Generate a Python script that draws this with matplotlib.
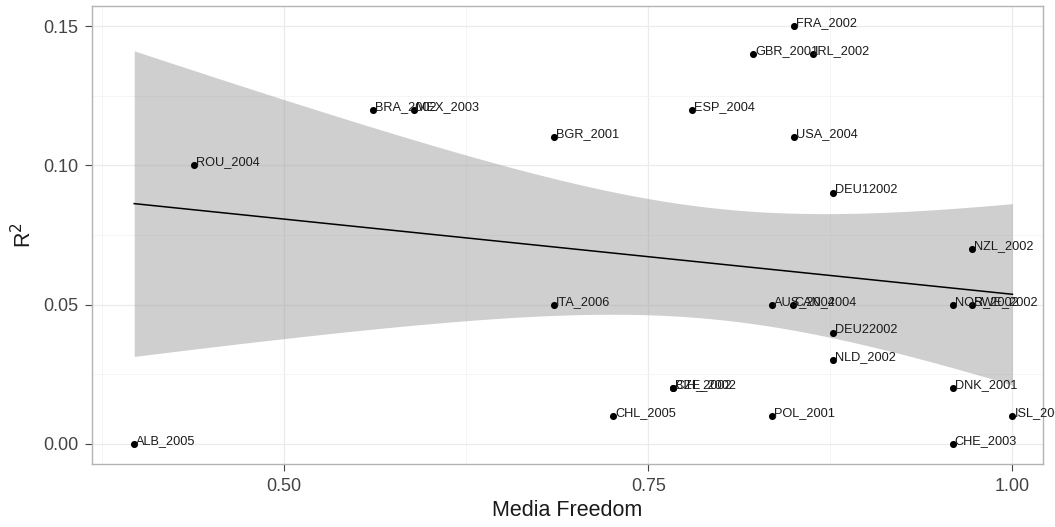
import numpy as np
import matplotlib
matplotlib.use("Agg")
import matplotlib.pyplot as plt
from matplotlib.ticker import MultipleLocator

plt.rcParams['font.family'] = ['Liberation Sans', 'DejaVu Sans']

# country-year labels, media freedom (x) and R^2 (y)
labels = ["ALB_2005", "ROU_2004", "BRA_2002", "MEX_2003", "BGR_2001", "ITA_2006",
          "ESP_2004", "CHL_2005", "BIH_2002", "CZE_2002", "FRA_2002", "GBR_2001",
          "IRL_2002", "USA_2004", "DEU12002", "NZL_2002", "AUS_2004", "CAN_2004",
          "NOR_2002", "SWE_2002", "DEU22002", "NLD_2002", "DNK_2001", "ISL_2002",
          "CHE_2003", "POL_2001"]
media_freedom = [0.397, 0.438, 0.561, 0.589, 0.685, 0.685,
                 0.780, 0.726, 0.767, 0.767, 0.850, 0.822,
                 0.863, 0.850, 0.877, 0.972, 0.835, 0.849,
                 0.959, 0.972, 0.877, 0.877, 0.959, 1.000,
                 0.959, 0.835]
r2 = [0.00, 0.10, 0.12, 0.12, 0.11, 0.05,
      0.12, 0.01, 0.02, 0.02, 0.15, 0.14,
      0.14, 0.11, 0.09, 0.07, 0.05, 0.05,
      0.05, 0.05, 0.04, 0.03, 0.02, 0.01,
      0.00, 0.01]

x = np.array(media_freedom)
y = np.array(r2)

# linear fit with 95% confidence band (like geom_smooth(method="lm"))
n = len(x)
X = np.column_stack([np.ones(n), x])
beta, *_ = np.linalg.lstsq(X, y, rcond=None)
resid = y - X @ beta
s2 = resid @ resid / (n - 2)
XtX_inv = np.linalg.inv(X.T @ X)
xs = np.linspace(x.min(), x.max(), 80)
Xs = np.column_stack([np.ones_like(xs), xs])
fit = Xs @ beta
se = np.sqrt(s2 * np.einsum('ij,jk,ik->i', Xs, XtX_inv, Xs))
t_crit = 2.064  # t(0.975, df=24)

fig = plt.figure(figsize=(10.55, 5.27), dpi=100)
ax = fig.add_axes([92 / 1055, 1 - 464 / 527, (1043 - 92) / 1055, (464 - 6) / 527])

ax.fill_between(xs, fit - t_crit * se, fit + t_crit * se, color='#999999', alpha=0.47,
                linewidth=0, zorder=2)
ax.plot(xs, fit, color='black', lw=1.1, zorder=3)
ax.scatter(x, y, s=26, color='black', zorder=4, linewidths=0)
for lab, xi, yi in zip(labels, x, y):
    # label starts at the point, baseline on the point (hjust=0, vjust=0)
    ax.annotate(lab, (xi, yi), xytext=(1.5, 0), textcoords='offset points',
                fontsize=9.2, ha='left', va='baseline', color='#1a1a1a',
                zorder=5, annotation_clip=False)

ax.set_xlim(0.368, 1.021)
ax.set_ylim(-0.0072, 0.1572)
ax.set_xticks([0.50, 0.75, 1.00])
ax.set_xticklabels(["0.50", "0.75", "1.00"])
ax.set_yticks([0.00, 0.05, 0.10, 0.15])
ax.set_yticklabels(["0.00", "0.05", "0.10", "0.15"])
ax.xaxis.set_minor_locator(MultipleLocator(0.125))
ax.yaxis.set_minor_locator(MultipleLocator(0.025))
ax.grid(which='major', color='#ebebeb', lw=0.9, zorder=0)
ax.grid(which='minor', color='#f4f4f4', lw=0.6, zorder=0)
ax.set_axisbelow(True)
ax.tick_params(which='major', length=5, color='#444444', labelsize=13,
               labelcolor='#444444', pad=5)
ax.tick_params(which='minor', length=0)
for sp in ax.spines.values():
    sp.set_color('#b3b3b3')
    sp.set_linewidth(1.0)

ax.set_xlabel("Media Freedom", fontsize=15.5, labelpad=4, color='#1a1a1a')
ax.set_ylabel("R$^2$", fontsize=15.5, labelpad=5, color='#1a1a1a')

fig.savefig("out.png", dpi=100)
